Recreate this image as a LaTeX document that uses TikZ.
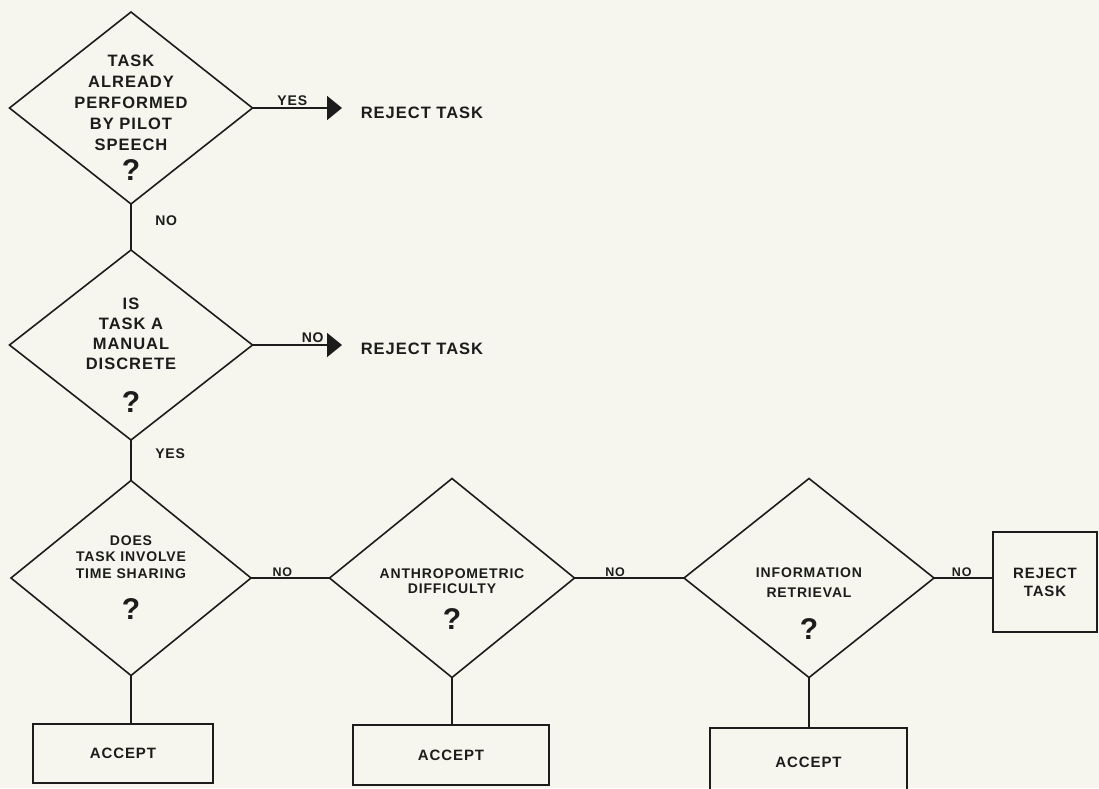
\documentclass[tikz,border=0pt]{standalone}
\usepackage{fontspec}
\setmainfont{Liberation Sans}[LetterSpace=6.0]
\usetikzlibrary{positioning, shapes.geometric, arrows.meta}
\definecolor{paper}{RGB}{246,246,238}
\definecolor{ink}{RGB}{28,28,28}

\begin{document}
\begin{tikzpicture}
  [x=1pt,y=-1pt,line width=1.6pt,color=ink,
   question/.style={draw,diamond,inner sep=0pt,outer sep=0pt},
   bigtext/.style={inner sep=0pt,align=center,font=\bfseries\fontsize{16.5}{#1}\selectfont},
   smalltext/.style={inner sep=0pt,align=center,font=\bfseries\fontsize{14}{#1}\selectfont},
   outcome/.style={draw,rectangle,inner sep=0pt,outer sep=0pt,align=center,font=\bfseries\fontsize{15}{18}\selectfont},
   answer/.style={inner sep=1.5pt,font=\bfseries\fontsize{14}{16}\selectfont},
   reject/.style={-{Triangle[length=15pt,width=24pt]},shorten >=18pt}]
  \newcommand\qmark{{\fontsize{30}{30}\selectfont ?}}
  \fill [paper] (0,0) rectangle (1099,788);
  \useasboundingbox (0,0) rectangle (1099,788);
  \clip (0,0) rectangle (1099,788);
  \node (pilotspeech) at (131,108) [question,minimum width=243pt,minimum height=192pt] {};
  \node (pilotspeechtext) [bigtext=21,below=42pt of pilotspeech.north] {TASK\\ALREADY\\PERFORMED\\BY PILOT\\SPEECH\\[8pt]\qmark};
  \node (rejectone) at (360,113) [bigtext=20,anchor=west] {REJECT TASK};
  \draw [reject] (pilotspeech.east) -- (pilotspeech.east -| rejectone.west) node [answer,above,pos=0.37] {YES};
  \node (manual) at (131,345) [question,minimum width=243pt,minimum height=190pt] {};
  \node (manualtext) [bigtext=20,below=47pt of manual.north] {IS\\TASK A\\MANUAL\\DISCRETE\\[21pt]\qmark};
  \node (rejecttwo) at (360,349) [bigtext=20,anchor=west] {REJECT TASK};
  \draw [reject] (manual.east) -- (manual.east -| rejecttwo.west) node [answer,above,pos=0.56] {NO};
  \draw (pilotspeech.south) -- (manual.north) node [answer,right=22pt,pos=0.37] {NO};
  \node (timesharing) at (131,578) [question,minimum width=240pt,minimum height=195pt] {};
  \node (timesharingtext) [smalltext=16.5,below=54pt of timesharing.north] {DOES\\TASK INVOLVE\\TIME SHARING\\[19pt]\qmark};
  \draw (manual.south) -- (timesharing.north) node [answer,right=22pt,pos=0.33] {YES};
  \node (anthro) at (452,578) [question,minimum width=245pt,minimum height=199pt] {};
  \node (anthrotext) [smalltext=15.5,below=89pt of anthro.north] {ANTHROPOMETRIC\\DIFFICULTY\\[14pt]\qmark};
  \node (retrieval) at (809,578) [question,minimum width=250pt,minimum height=199pt] {};
  \node (retrievaltext) [smalltext=20,below=88pt of retrieval.north] {INFORMATION\\RETRIEVAL\\[20pt]\qmark};
  \node (rejectbox) at (1045,582) [outcome,minimum width=104pt,minimum height=100pt] {REJECT\\TASK};
  \draw (timesharing.east) -- (anthro.west) node [answer,above,inner sep=0.5pt,pos=0.4,font=\bfseries\fontsize{12.5}{14}\selectfont] {NO};
  \draw (anthro.east) -- (retrieval.west) node [answer,above,inner sep=0.5pt,pos=0.37,font=\bfseries\fontsize{12.5}{14}\selectfont] {NO};
  \draw (retrieval.east) -- (retrieval.east -| rejectbox.west) node [answer,above,inner sep=0.5pt,pos=0.47,font=\bfseries\fontsize{12.5}{14}\selectfont] {NO};
  \node (acceptone) at (123,753.5) [outcome,minimum width=180pt,minimum height=59pt] {ACCEPT};
  \node (accepttwo) at (451,755) [outcome,minimum width=196pt,minimum height=60pt] {ACCEPT};
  \node (acceptthree) at (808.5,762) [outcome,minimum width=197pt,minimum height=68pt] {ACCEPT};
  \draw (timesharing.south) -- (timesharing.south |- acceptone.north);
  \draw (anthro.south) -- (anthro.south |- accepttwo.north);
  \draw (retrieval.south) -- (retrieval.south |- acceptthree.north);
\end{tikzpicture}
\end{document}
